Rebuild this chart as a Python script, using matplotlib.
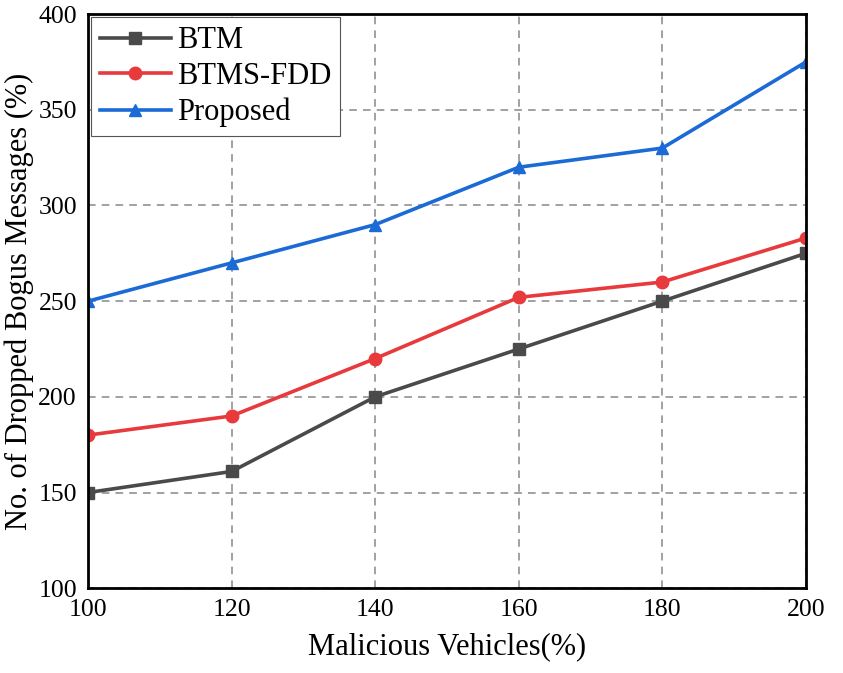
import matplotlib
matplotlib.use('Agg')
import matplotlib.pyplot as plt

x = [100, 120, 140, 160, 180, 200]
btm = [150, 161, 200, 225, 250, 275]
btms_fdd = [180, 190, 220, 252, 260, 283]
proposed = [250, 270, 290, 320, 330, 375]

plt.rcParams['font.family'] = ['Liberation Serif', 'DejaVu Serif']

fig = plt.figure(figsize=(8.43, 6.73), dpi=100)
ax = fig.add_axes([0.1044, 0.126, 0.8516, 0.853])

ax.plot(x, btm, color='#4a4a4a', marker='s', markersize=8, linewidth=2.6, label='BTM')
ax.plot(x, btms_fdd, color='#e8393c', marker='o', markersize=9, linewidth=2.6, label='BTMS-FDD')
ax.plot(x, proposed, color='#1b6ad6', marker='^', markersize=9, linewidth=2.6, label='Proposed')

ax.set_xlim(100, 200)
ax.set_ylim(100, 400)
ax.set_xticks(x)
ax.set_yticks(range(100, 401, 50))
ax.tick_params(labelsize=18.5, length=0, pad=8)
ax.grid(True, linestyle=(0, (5, 4)), color='#888888', linewidth=1.1)
for s in ax.spines.values():
    s.set_linewidth(2)
    s.set_color('black')

ax.set_xlabel('Malicious Vehicles(%)', fontsize=22, labelpad=8)
ax.set_ylabel('No. of Dropped Bogus Messages (%)', fontsize=22, labelpad=3)

leg = ax.legend(loc='upper left', fontsize=22, fancybox=False, framealpha=1,
                edgecolor='#555555', handlelength=2.3, borderpad=0.3,
                labelspacing=0.22, handletextpad=0.2, borderaxespad=0.1)
leg.get_frame().set_linewidth(0.8)

fig.savefig('out.png', dpi=100)
